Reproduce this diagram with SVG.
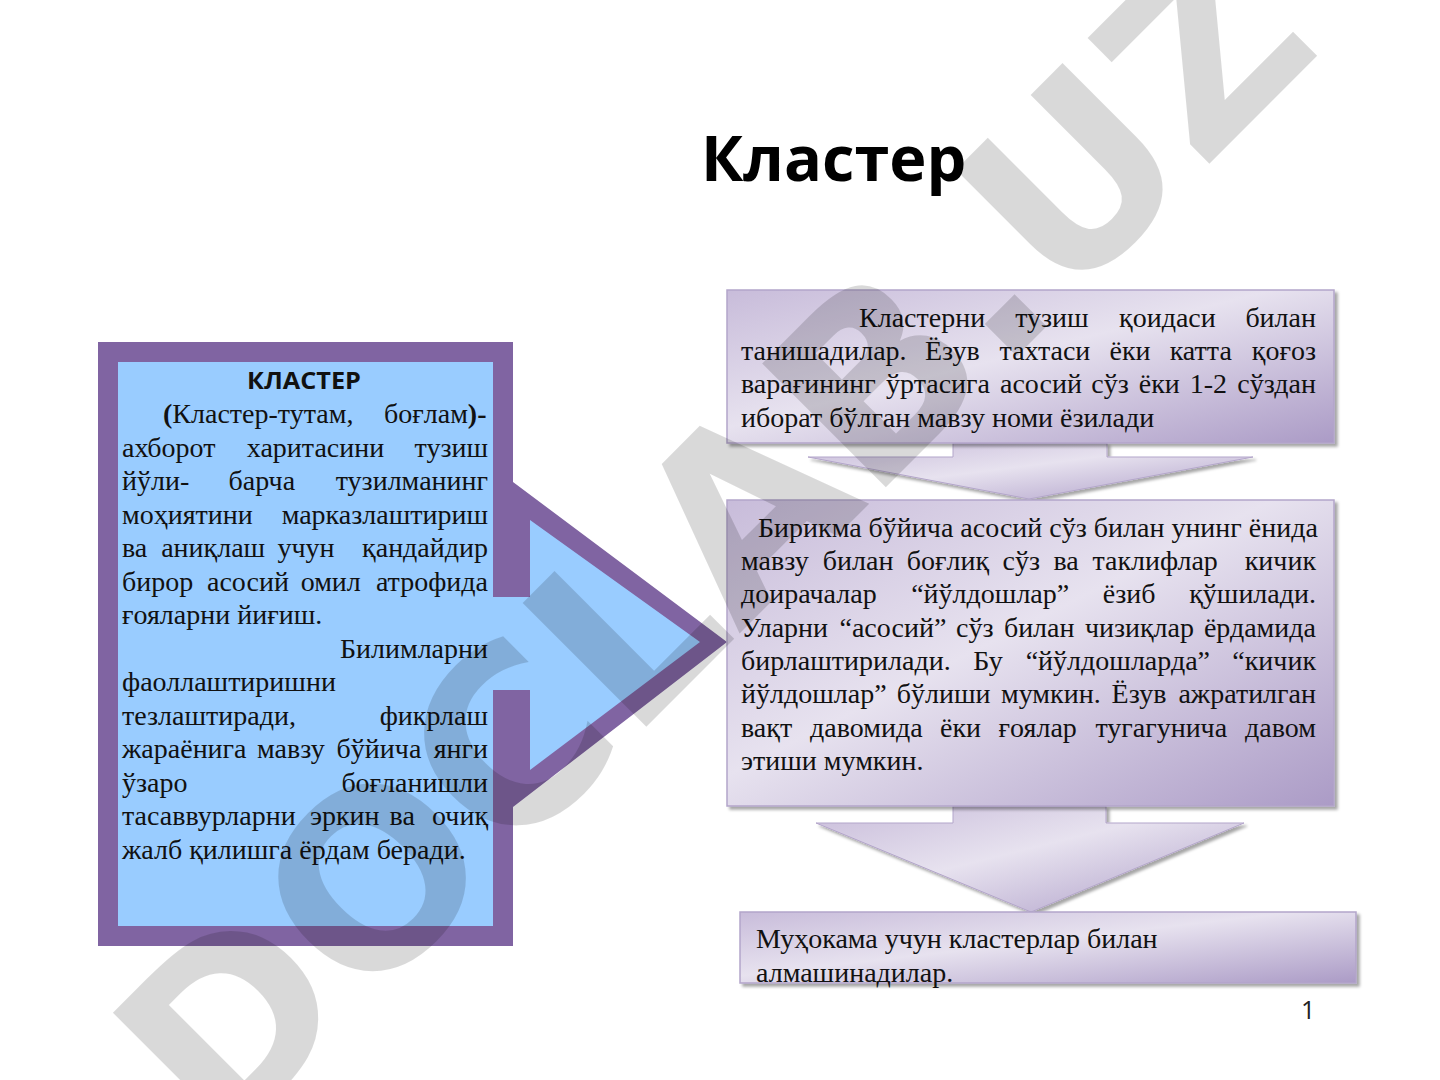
<svg xmlns="http://www.w3.org/2000/svg" width="1440" height="1080" viewBox="0 0 1440 1080">
<style>
.t{font-family:"Liberation Serif","Times New Roman",serif;font-size:28px;fill:#111}
.e{text-anchor:end}
.b{font-weight:bold}
.box{fill:url(#g);stroke:#b3a5ca;stroke-width:1.5;filter:url(#sh)}
.arr{fill:url(#g);stroke:#b3a5ca;stroke-width:1;filter:url(#sh)}
</style>
<defs>
<linearGradient id="g" x1="0" y1="0" x2="1" y2="1">
<stop offset="0" stop-color="#c8bcda"/>
<stop offset="0.45" stop-color="#e7e2ef"/>
<stop offset="1" stop-color="#ab9bc6"/>
</linearGradient>
<filter id="sh" x="-5%" y="-10%" width="110%" height="125%">
<feDropShadow dx="3" dy="3" stdDeviation="1.5" flood-color="#000" flood-opacity="0.35"/>
</filter>
</defs>
<rect width="1440" height="1080" fill="#fff"/>

<text x="701" y="181" font-family="Open Sans, Noto Sans, sans-serif" font-weight="bold" font-size="63" fill="#000">Кластер</text>

<g id="left-callout">
<path d="M98,342 H513 V482 L727,642 L513,807 V946 H98 Z" fill="#8064a2"/>
<path d="M118,362 H493 V597 H530 V520 L700,642 L530,770 V690 H493 V926 H118 Z" fill="#99ccff"/>
<text x="304" y="389" text-anchor="middle" font-family="Open Sans, Noto Sans, sans-serif" font-weight="bold" font-size="24" textLength="114" lengthAdjust="spacingAndGlyphs" fill="#111">КЛАСТЕР</text>
<text class="t" y="423"><tspan x="163" class="b">(</tspan><tspan>Кластер-тутам,</tspan><tspan x="384">боғлам</tspan><tspan class="b">)-</tspan></text>
<text class="t" y="456.5"><tspan x="122">ахборот</tspan><tspan x="246.8">харитасини</tspan><tspan x="488" class="e">тузиш</tspan></text>
<text class="t" y="490"><tspan x="122">йўли-</tspan><tspan x="228.6">барча</tspan><tspan x="488" class="e">тузилманинг</tspan></text>
<text class="t" y="523.5"><tspan x="122">моҳиятини</tspan><tspan x="488" class="e">марказлаштириш</tspan></text>
<text class="t" y="557"><tspan x="122">ва</tspan><tspan x="161.2">аниқлаш</tspan><tspan x="277.4">учун</tspan><tspan x="488" class="e">қандайдир</tspan></text>
<text class="t" y="590.5"><tspan x="122">бирор</tspan><tspan x="207">асосий</tspan><tspan x="300.7">омил</tspan><tspan x="488" class="e">атрофида</tspan></text>
<text class="t" x="122" y="624">ғояларни йиғиш.</text>
<text class="t e" x="488" y="657.5">Билимларни</text>
<text class="t" x="122" y="691">фаоллаштиришни</text>
<text class="t" y="724.5"><tspan x="122">тезлаштиради,</tspan><tspan x="488" class="e">фикрлаш</tspan></text>
<text class="t" y="758"><tspan x="122">жараёнига</tspan><tspan x="257">мавзу</tspan><tspan x="336.6">бўйича</tspan><tspan x="488" class="e">янги</tspan></text>
<text class="t" y="791.5"><tspan x="122">ўзаро</tspan><tspan x="488" class="e">боғланишли</tspan></text>
<text class="t" y="825"><tspan x="122">тасаввурларни</tspan><tspan x="310">эркин</tspan><tspan x="389.6">ва</tspan><tspan x="488" class="e">очиқ</tspan></text>
<text class="t" x="122" y="858.5">жалб қилишга ёрдам беради.</text>
</g>

<g id="connectors">
<path class="arr" d="M953,443 H1107 V457 H1253 L1029,499 L808,457 H953 Z"/>
<path class="arr" d="M953,806 H1106 V823 H1244 L1031,912 L816,823 H953 Z"/>
</g>

<g id="step1">
<rect class="box" x="727" y="290" width="607" height="153"/>
<text class="t" y="326.5"><tspan x="859">Кластерни</tspan><tspan x="1015.2">тузиш</tspan><tspan x="1119.1">қоидаси</tspan><tspan x="1316" class="e">билан</tspan></text>
<text class="t" y="360"><tspan x="741">танишадилар.</tspan><tspan x="925">Ёзув</tspan><tspan x="999.6">тахтаси</tspan><tspan x="1109.5">ёки</tspan><tspan x="1169.7">катта</tspan><tspan x="1316" class="e">қоғоз</tspan></text>
<text class="t" y="393.3"><tspan x="741">варағининг</tspan><tspan x="886">ўртасига</tspan><tspan x="1000">асосий</tspan><tspan x="1091.3">сўз</tspan><tspan x="1138.8">ёки</tspan><tspan x="1189.8">1-2</tspan><tspan x="1316" class="e">сўздан</tspan></text>
<text class="t" x="741" y="426.7">иборат бўлган мавзу номи ёзилади</text>
</g>

<g id="step2">
<rect class="box" x="727" y="500" width="607" height="306"/>
<text class="t" x="758" y="536.5">Бирикма бўйича асосий сўз билан унинг ёнида</text>
<text class="t" y="569.9"><tspan x="741">мавзу</tspan><tspan x="822.8">билан</tspan><tspan x="906.8">боғлиқ</tspan><tspan x="1002.5">сўз</tspan><tspan x="1053.4">ва</tspan><tspan x="1092.4">таклифлар</tspan><tspan x="1316" class="e">кичик</tspan></text>
<text class="t" y="603.2"><tspan x="741">доирачалар</tspan><tspan x="911.2">“йўлдошлар”</tspan><tspan x="1102.8">ёзиб</tspan><tspan x="1316" class="e">қўшилади.</tspan></text>
<text class="t" y="636.6"><tspan x="741">Уларни</tspan><tspan x="839.5">“асосий”</tspan><tspan x="956">сўз</tspan><tspan x="1003.9">билан</tspan><tspan x="1084.9">чизиқлар</tspan><tspan x="1316" class="e">ёрдамида</tspan></text>
<text class="t" y="669.9"><tspan x="741">бирлаштирилади.</tspan><tspan x="973.3">Бу</tspan><tspan x="1025.7">“йўлдошларда”</tspan><tspan x="1316" class="e">“кичик</tspan></text>
<text class="t" y="703.3"><tspan x="741">йўлдошлар”</tspan><tspan x="896.7">бўлиши</tspan><tspan x="1001">мумкин.</tspan><tspan x="1111.6">Ёзув</tspan><tspan x="1316" class="e">ажратилган</tspan></text>
<text class="t" y="736.6"><tspan x="741">вақт</tspan><tspan x="810.1">давомида</tspan><tspan x="940">ёки</tspan><tspan x="998.6">ғоялар</tspan><tspan x="1095.4">тугагунича</tspan><tspan x="1316" class="e">давом</tspan></text>
<text class="t" x="741" y="770">этиши мумкин.</text>
</g>

<g id="step3">
<rect class="box" x="740" y="912" width="616" height="71"/>
<text class="t" x="756" y="948">Муҳокама учун кластерлар билан</text>
<text class="t" x="756" y="982">алмашинадилар.</text>
</g>

<text x="1301" y="1019" font-family="Open Sans, Noto Sans, sans-serif" font-size="25" fill="#222">1</text>

<text x="221" y="1152" transform="rotate(-45 221 1152)" font-family="DejaVu Sans, sans-serif" font-weight="bold" font-size="240" fill="#000" fill-opacity="0.15">DOCLAB.UZ</text>
</svg>
